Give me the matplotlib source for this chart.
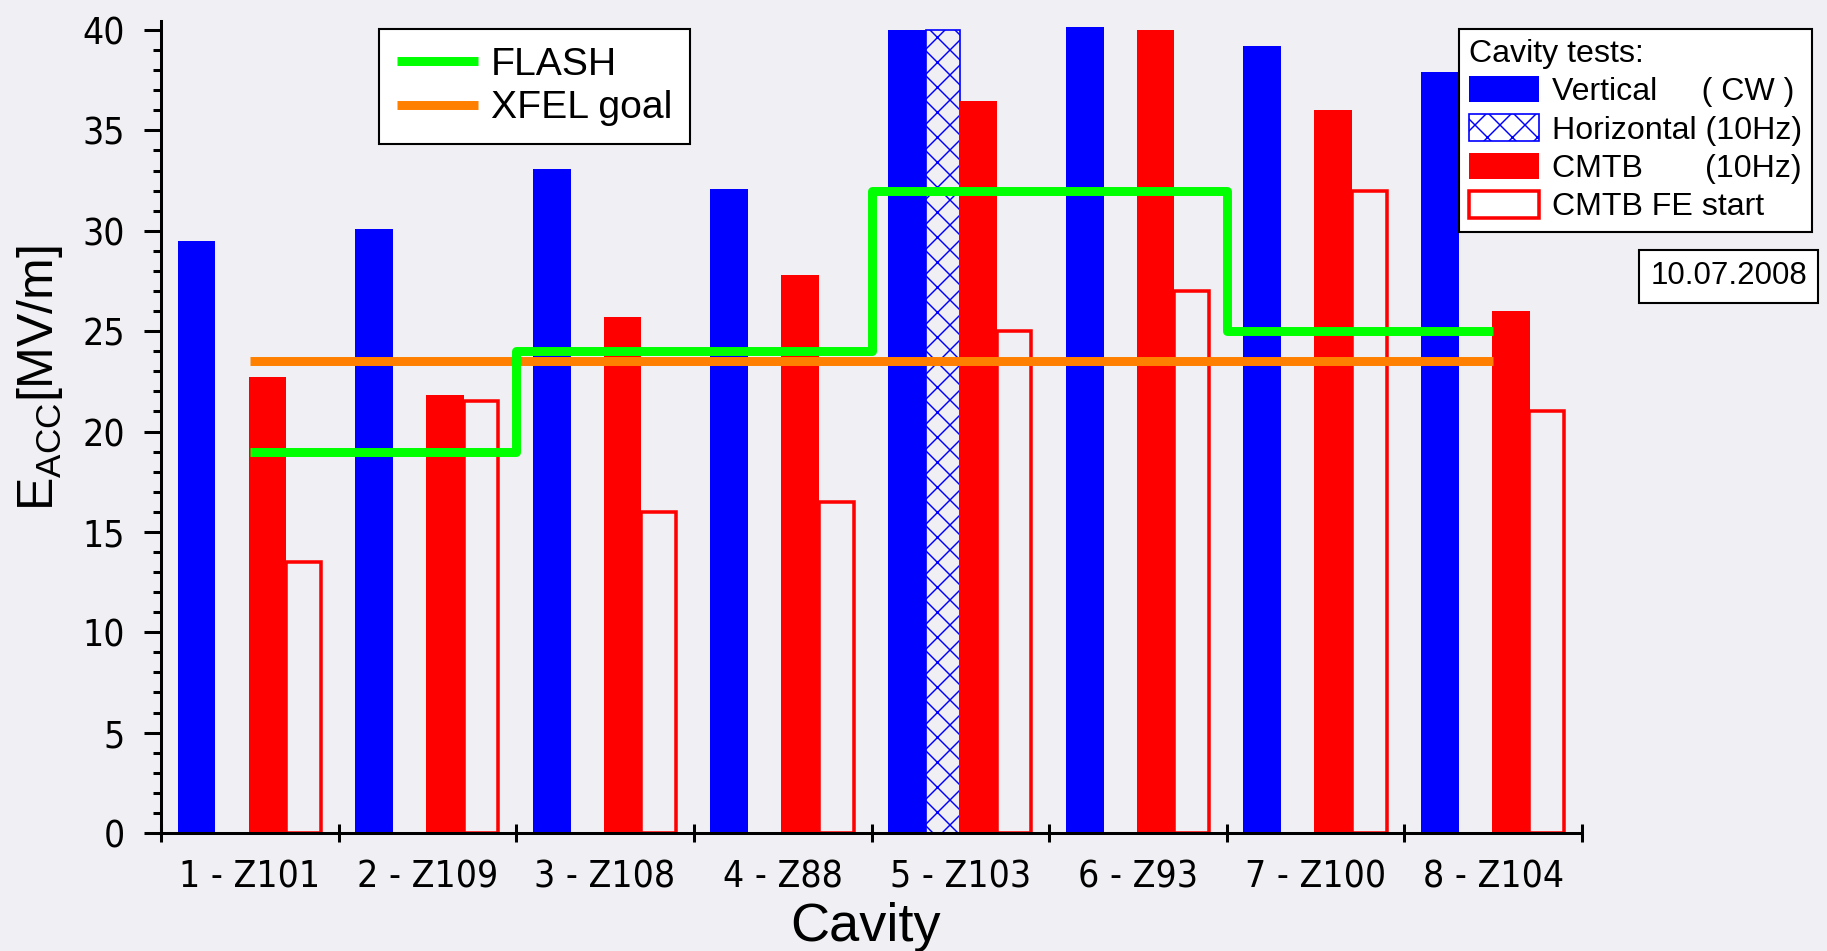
import numpy as np
import matplotlib
matplotlib.use("Agg")
import matplotlib.pyplot as plt
from matplotlib import font_manager
from matplotlib.ticker import MultipleLocator

W, H, DPI = 1827, 951, 150

# -- Data ----------------------------------------------------------------------
cavities = ["1 - Z101", "2 - Z109", "3 - Z108", "4 - Z88",
            "5 - Z103", "6 - Z93", "7 - Z100", "8 - Z104"]
vertical_cw = [29.5, 30.1, 33.1, 32.1, 40.0, 40.15, 39.2, 37.9]
horizontal_10hz = [np.nan, np.nan, np.nan, np.nan, 40.0, np.nan, np.nan, np.nan]
cmtb_10hz = [22.7, 21.8, 25.7, 27.8, 36.45, 40.0, 36.0, 26.0]
cmtb_fe_start = [13.5, 21.5, 16.0, 16.5, 25.0, 27.0, 32.0, 21.0]
flash = [19, 19, 24, 24, 32, 32, 25, 25]
xfel_goal = 23.5

BG = "#f0f0f4"
BLUE = "#0000ff"
RED = "#ff0000"
GREEN = "#00ff00"
ORANGE = "#ff8000"


def narrow_font(size):
    """Pick a condensed sans face if one is installed (tick labels are narrow)."""
    names = {f.name for f in font_manager.fontManager.ttflist}
    if "Liberation Sans Narrow" in names:
        return font_manager.FontProperties(family="Liberation Sans Narrow", size=size)
    cands = []
    for f in font_manager.fontManager.ttflist:
        st = f.stretch
        if isinstance(st, str):
            st = {"ultra-condensed": 50, "extra-condensed": 62, "condensed": 75,
                  "semi-condensed": 87}.get(st, 100)
        if st < 100 and f.style == "normal" and f.weight in (400, "normal", "regular"):
            pref = ["Roboto", "Open Sans", "Noto Sans", "DejaVu Sans"]
            rank = pref.index(f.name) if f.name in pref else len(pref)
            cands.append((rank, abs(st - 75), f.fname))
    if cands:
        cands.sort()
        return font_manager.FontProperties(fname=cands[0][2], size=size)
    return font_manager.FontProperties(family="Liberation Sans", size=size)


plt.rcParams.update({
    "font.family": ["Liberation Sans", "DejaVu Sans"],
    "mathtext.fontset": "custom",
    "mathtext.rm": "Liberation Sans",
    "mathtext.it": "Liberation Sans:italic",
    "hatch.linewidth": 0.7,
})


def fx(px):
    return px / W


def fy(py):
    return 1 - py / H


fig = plt.figure(figsize=(W / DPI, H / DPI), dpi=DPI, facecolor=BG)
ax = fig.add_axes([fx(161), fy(833), (1582 - 161) / W, (833 - 21) / H], facecolor=BG)

x = np.arange(len(cavities))
b_vert = ax.bar(x + 0.20, vertical_cw, width=0.213, color=BLUE, linewidth=0)
b_hor = ax.bar(x + 0.401, horizontal_10hz, width=0.19, facecolor="none",
               edgecolor=BLUE, hatch="xx", linewidth=0.8)
b_cmtb = ax.bar(x + 0.599, cmtb_10hz, width=0.212, color=RED, linewidth=0)
b_fe = ax.bar(x + 0.802, cmtb_fe_start, width=0.196, fill=False,
              edgecolor=RED, linewidth=1.7)

xfel_line = ax.hlines(xfel_goal, x[0] + 0.5, x[-1] + 0.5, color=ORANGE,
                      linewidth=4.3, capstyle="butt", zorder=3)
flash_line, = ax.step(x + 0.5, flash, where="mid", color=GREEN, linewidth=4.3,
                      solid_joinstyle="round", solid_capstyle="butt", zorder=4)

# -- Axes ----------------------------------------------------------------------
ax.set_xlim(0, 8)
ax.set_ylim(0, 40.45)
for side in ("top", "right"):
    ax.spines[side].set_visible(False)
for side in ("left", "bottom"):
    ax.spines[side].set_linewidth(1.45)

ax.set_yticks(np.arange(0, 41, 5))
ax.yaxis.set_minor_locator(MultipleLocator(1))
ax.tick_params(axis="y", which="major", direction="out", length=8.2, width=1.45, pad=9)
ax.tick_params(axis="y", which="minor", direction="out", length=3.9, width=1.45)

ax.set_xticks(np.arange(0, 9))
ax.set_xticklabels([])
ax.set_xticks(x + 0.5, minor=True)
ax.set_xticklabels(cavities, minor=True)
ax.tick_params(axis="x", which="major", direction="inout", length=8.2, width=1.45)
ax.tick_params(axis="x", which="minor", length=0, pad=12)

tick_fp = narrow_font(17.8)
for lbl in ax.get_yticklabels() + ax.get_xticklabels(minor=True):
    lbl.set_fontproperties(tick_fp)

fig.text(fx(866), fy(941), "Cavity", ha="center", va="baseline", fontsize=26)
fig.text(fx(40), fy(378), r"E$_{\mathrm{ACC}}$[MV/m]", rotation=90,
         ha="center", va="center", fontsize=24)

# -- Legends -------------------------------------------------------------------
leg1 = ax.legend([flash_line, xfel_line], ["FLASH", "XFEL goal"],
                 loc="upper left", bbox_to_anchor=(fx(379), fy(29)),
                 bbox_transform=fig.transFigure, borderaxespad=0,
                 fontsize=18.8, borderpad=0.45, handlelength=2.08,
                 handletextpad=0.33, labelspacing=0.2,
                 fancybox=False, framealpha=1, edgecolor="black")
leg1.get_frame().set_linewidth(1.0)
ax.add_artist(leg1)

leg2 = ax.legend([b_vert, b_hor, b_cmtb, b_fe],
                 ["Vertical     ( CW )", "Horizontal (10Hz)",
                  "CMTB       (10Hz)", "CMTB FE start"],
                 title="Cavity tests:", title_fontsize=15.4, alignment="left",
                 loc="upper right", bbox_to_anchor=(fx(1812), fy(29)),
                 bbox_transform=fig.transFigure, borderaxespad=0,
                 fontsize=15.4, borderpad=0.3, handlelength=2.2,
                 handleheight=0.9, handletextpad=0.4, labelspacing=0.22,
                 fancybox=False, framealpha=1, edgecolor="black")
leg2.get_frame().set_linewidth(1.0)

fig.text(fx(1807), fy(276.5), "10.07.2008", ha="right", va="center", fontsize=15,
         bbox=dict(boxstyle="square,pad=0.36", facecolor="white",
                   edgecolor="black", linewidth=1.0))

fig.savefig("out.png", dpi=DPI, facecolor=BG)
